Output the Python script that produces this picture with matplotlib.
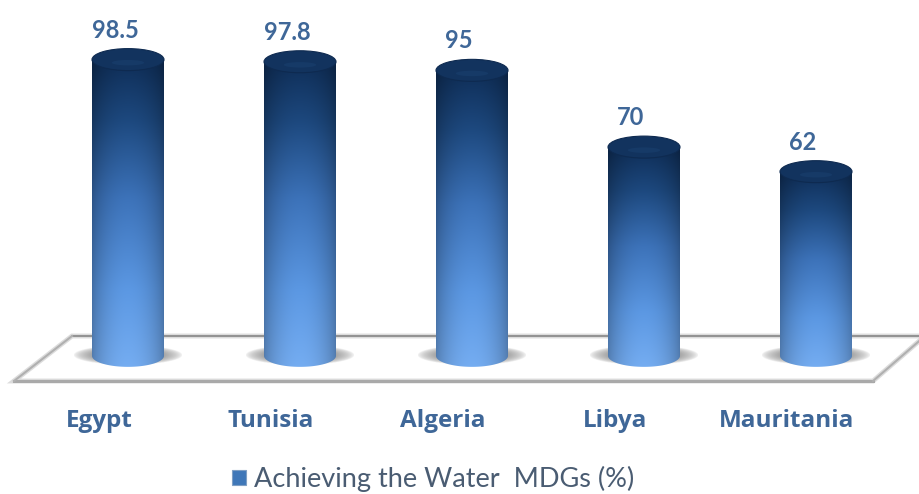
import numpy as np
import matplotlib
matplotlib.use("Agg")
import matplotlib.pyplot as plt
from matplotlib.patches import Ellipse, Patch, Polygon

#DATA
countries = ["Egypt", "Tunisia", "Algeria", "Libya", "Mauritania"]
values = [98.5, 97.8, 95, 70, 62]
value_labels = ["98.5", "97.8", "95", "70", "62"]
legend_label = "Achieving the Water  MDGs (%)"

W, H = 919, 494
TEXT = "#3f6798"

#pixel scale of the axes: category step 172 px, 3.07 px per value unit
px_x = 172.0
px_y = 3.07
x0_px = 128.0
y0_px = 362.0
half_w = 36 / px_x
half_h = 11 / px_y
base = 2.0

#helpers to go from picture pixels to data, only for the floor and labels
def dx(p):
    return (p - x0_px) / px_x

def dy(p):
    return (y0_px - p) / px_y

fig = plt.figure(figsize=(W / 100, H / 100), dpi=100)
ax = fig.add_axes([0, 0, 1, 1])
ax.set_xlim(dx(0), dx(W))
ax.set_ylim(dy(H), dy(0))
ax.axis("off")

#FLOOR
floor = [(dx(14), dy(381)), (dx(873), dy(381)), (dx(925), dy(336)), (dx(72), dy(336))]
ax.add_patch(Polygon(floor, closed=True, fc="white", ec="#dcdcdc", lw=3.5, zorder=1))
ax.plot([dx(14), dx(873)], [dy(381), dy(381)], color="#a9a9a9", lw=2.2, zorder=2)
ax.plot([dx(72), dx(925)], [dy(336), dy(336)], color="#8c8c8c", lw=1.3, zorder=2)
ax.plot([dx(14), dx(72)], [dy(381), dy(336)], color="#b0b0b0", lw=1.5, zorder=2)
ax.plot([dx(873), dx(925)], [dy(381), dy(336)], color="#b0b0b0", lw=1.5, zorder=2)

#colour stops, dark top to light bottom of the cylinder
stops = np.array([[14, 44, 84], [28, 70, 122], [58, 110, 178], [88, 146, 218], [112, 166, 232]]) / 255.0
stop_pos = [0.0, 0.2, 0.45, 0.75, 1.0]

for i, v in enumerate(values):
    #SHADOW, fades to nothing at its rim
    gx = np.linspace(-1, 1, 120)
    gy = np.linspace(-1, 1, 40)
    xx, yy = np.meshgrid(gx, gy)
    alpha = np.clip(1 - np.sqrt(xx ** 2 + yy ** 2), 0, 1) ** 0.6 * 0.95
    shadow = np.zeros((40, 120, 4))
    shadow[..., :3] = 0.3
    shadow[..., 3] = alpha
    ax.imshow(shadow, extent=[i - 55 / px_x, i + 55 / px_x, base - 9 / px_y, base + 10 / px_y],
              aspect="auto", zorder=3)

    #CYLINDER body, gradient clipped to the outline
    top = v
    bottom = base - half_h
    rows = 200
    t = np.linspace(0, 1, rows)
    col = np.stack([np.interp(t, stop_pos, stops[:, c]) for c in range(3)], axis=1)
    sx = np.linspace(-1, 1, 72)
    shade = 0.76 + 0.28 * (1 - sx ** 2) ** 0.8
    img = np.clip(col[:, None, :] * shade[None, :, None], 0, 1)
    im = ax.imshow(img, extent=[i - half_w, i + half_w, bottom, top], aspect="auto", zorder=4)
    th = np.linspace(0, np.pi, 60)
    outline = [(i - half_w, top)]
    outline += [(i - half_w * np.cos(a), base - half_h * np.sin(a)) for a in th]
    outline += [(i + half_w, top)]
    clip = Polygon(outline, closed=True, transform=ax.transData, fc="none", ec="none")
    ax.add_patch(clip)
    im.set_clip_path(clip)

    #top cap
    ax.add_patch(Ellipse((i, top), 2 * half_w, 2 * half_h, fc="#12335e", ec="#0e2a50", lw=0.8, zorder=5))
    ax.add_patch(Ellipse((i, top - 1.0), 0.9 * half_w, 0.5 * half_h, fc="#1b4373", ec="none", alpha=0.45, zorder=5))

    #value above the bar, set a little left of the cylinder centre
    ax.text(i - 13 / px_x, v + half_h + 6.0, value_labels[i], ha="center", va="center", fontsize=17,
            family="Lato", fontweight="bold", color=TEXT, zorder=6)
    #category below the floor, also shifted left
    ax.text(i - 29 / px_x, dy(421), countries[i], ha="center", va="center", fontsize=17.5,
            family="Open Sans", fontweight="bold", color=TEXT, zorder=6)

ax.set_xlim(dx(0), dx(W))
ax.set_ylim(dy(H), dy(0))

#LEGEND
handle = Patch(fc="#3f77b8", ec="#7f9fc4", lw=0.8)
leg = ax.legend([handle], [legend_label], loc="center", bbox_to_anchor=(433 / W, 1 - 479 / H), frameon=False,
                handlelength=0.5, handleheight=0.5, handletextpad=0.3, borderpad=0,
                prop={"family": "Lato", "size": 19.5})
leg.get_texts()[0].set_color("#4a5c72")

plt.savefig("out.png", dpi=100)
